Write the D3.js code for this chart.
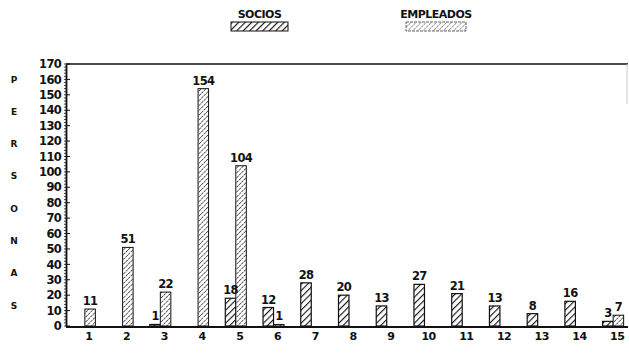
<!DOCTYPE html>
<html>
<head>
<meta charset="utf-8">
<script src="https://cdn.jsdelivr.net/npm/d3@7"></script>
<style>
  html, body { margin: 0; padding: 0; background: #fff; }
  svg text { font-family: "DejaVu Sans", "Liberation Sans", sans-serif; fill: #111; }
</style>
</head>
<body>
<svg id="chart" width="629" height="355"></svg>
<script>
// Personas por grupo: socios y empleados
const categories = ["1","2","3","4","5","6","7","8","9","10","11","12","13","14","15"];
const socios     = [0, 0, 1, 0, 18, 12, 28, 20, 13, 27, 21, 13, 8, 16, 3];
const empleados  = [11, 51, 22, 154, 104, 1, 0, 0, 0, 0, 0, 0, 0, 0, 7];
const seriesNames = ["SOCIOS", "EMPLEADOS"];
const yTicks = d3.range(0, 171, 10);
const axisTitle = ["P","E","R","S","O","N","A","S"];

const svg = d3.select("#chart");
const plotLeft = 66, plotRight = 628, plotTop = 64, plotBottom = 326;

// Hatch patterns for the two series
const defs = svg.append("defs");
function hatch(id, size, width, color, dash) {
  const p = defs.append("pattern").attr("id", id)
    .attr("patternUnits", "userSpaceOnUse").attr("width", size).attr("height", size)
    .attr("patternTransform", "rotate(45)");
  p.append("rect").attr("width", size).attr("height", size).attr("fill", "#fff");
  p.append("line").attr("x1", 0).attr("y1", 0).attr("x2", 0).attr("y2", size)
    .attr("stroke", color).attr("stroke-width", width)
    .attr("stroke-dasharray", dash);
}
hatch("hatchSocios", 4.6, 2.2, "#111", null);
hatch("hatchEmpleados", 3.4, 1.3, "#111", "2.8,0.6");
hatch("hatchEmpleadosKey", 3.6, 1.1, "#444", "2.2,1");

const fills = { "SOCIOS": "url(#hatchSocios)", "EMPLEADOS": "url(#hatchEmpleados)" };
const keyFills = { "SOCIOS": "url(#hatchSocios)", "EMPLEADOS": "url(#hatchEmpleadosKey)" };

// Scales
const x0 = d3.scaleBand().domain(categories).range([plotLeft, 632]).padding(0);
const barW = 10.5;
const x1 = d3.scaleBand().domain(seriesNames).range([-barW, barW]).padding(0);
const y = d3.scaleLinear().domain([0, 170]).range([plotBottom, plotTop]);

// Frame
svg.append("line").attr("x1", plotLeft).attr("x2", plotRight).attr("y1", plotTop).attr("y2", plotTop)
  .attr("stroke", "#111").attr("stroke-width", 1.6);
svg.append("line").attr("x1", plotRight - 1).attr("x2", plotRight - 1).attr("y1", plotTop).attr("y2", plotTop + 40)
  .attr("stroke", "#ccc").attr("stroke-width", 1);

// Y axis with labelled ticks every 10 and minor ticks every 2
const yAxis = d3.axisLeft(y).tickValues(yTicks).tickSize(0).tickPadding(5);
const gy = svg.append("g").attr("transform", `translate(${plotLeft},0)`).call(yAxis);
gy.select(".domain").attr("stroke", "#111").attr("stroke-width", 1.8);
gy.selectAll("text").attr("font-size", 11.5).attr("font-weight", "bold")
  .attr("letter-spacing", "-0.7");
svg.append("g").selectAll("line").data(d3.range(0, 171, 2)).join("line")
  .attr("x1", plotLeft - 2).attr("x2", plotLeft)
  .attr("y1", d => y(d)).attr("y2", d => y(d))
  .attr("stroke", "#111").attr("stroke-width", 0.8);
svg.append("g").selectAll("line").data(yTicks).join("line")
  .attr("x1", plotLeft).attr("x2", plotLeft + 4)
  .attr("y1", d => y(d)).attr("y2", d => y(d))
  .attr("stroke", "#111").attr("stroke-width", 1);

// Vertical axis title, one letter per row
svg.append("g").selectAll("text").data(axisTitle).join("text")
  .attr("x", 14).attr("y", (d, i) => 80 + i * 32.3)
  .attr("text-anchor", "middle").attr("dominant-baseline", "middle")
  .attr("font-size", 9).attr("font-weight", "bold")
  .text(d => d);

// Bars
const rows = categories.map((c, i) => ({
  cat: c,
  vals: [
    { key: "SOCIOS", value: socios[i] },
    { key: "EMPLEADOS", value: empleados[i] }
  ].filter(d => d.value > 0)
}));

const groups = svg.append("g").selectAll("g").data(rows).join("g")
  .attr("transform", d => `translate(${x0(d.cat) + x0.bandwidth() / 2},0)`);

groups.selectAll("rect").data(d => d.vals).join("rect")
  .attr("x", d => x1(d.key))
  .attr("width", x1.bandwidth())
  .attr("y", d => y(d.value))
  .attr("height", d => y(0) - y(d.value))
  .attr("fill", d => fills[d.key])
  .attr("stroke", "#111")
  .attr("stroke-width", d => d.key === "SOCIOS" ? 1.2 : 1);

groups.selectAll("text").data(d => d.vals).join("text")
  .attr("x", d => x1(d.key) + x1.bandwidth() / 2)
  .attr("y", d => y(d.value) - 4)
  .attr("text-anchor", "middle")
  .attr("font-size", 11.5).attr("font-weight", "bold").attr("letter-spacing", "-0.7")
  .text(d => d.value);

// X axis
const xAxis = d3.axisBottom(x0).tickSize(0).tickPadding(5);
const gx = svg.append("g").attr("transform", `translate(0,${plotBottom + 1})`).call(xAxis);
gx.select(".domain").remove();
gx.selectAll("text").attr("font-size", 11).attr("font-weight", "bold")
  .attr("dx", 4).attr("letter-spacing", "-0.6");
svg.append("line").attr("x1", plotLeft).attr("x2", plotRight).attr("y1", plotBottom + 1).attr("y2", plotBottom + 1)
  .attr("stroke", "#111").attr("stroke-width", 2);

// Legend
const legendPos = [{ name: "SOCIOS", x: 231, w: 57 }, { name: "EMPLEADOS", x: 406, w: 60 }];
const lg = svg.append("g").selectAll("g").data(legendPos).join("g");
lg.append("text")
  .attr("x", d => d.x + d.w / 2).attr("y", 18)
  .attr("text-anchor", "middle").attr("font-size", 11).attr("font-weight", 600)
  .attr("letter-spacing", "-0.5")
  .text(d => d.name);
lg.append("rect")
  .attr("x", d => d.x).attr("y", 22).attr("width", d => d.w).attr("height", 9)
  .attr("fill", d => keyFills[d.name])
  .attr("stroke", d => d.name === "SOCIOS" ? "#111" : "#666")
  .attr("stroke-width", 1)
  .attr("stroke-dasharray", d => d.name === "SOCIOS" ? null : "3,1");
</script>
</body>
</html>
